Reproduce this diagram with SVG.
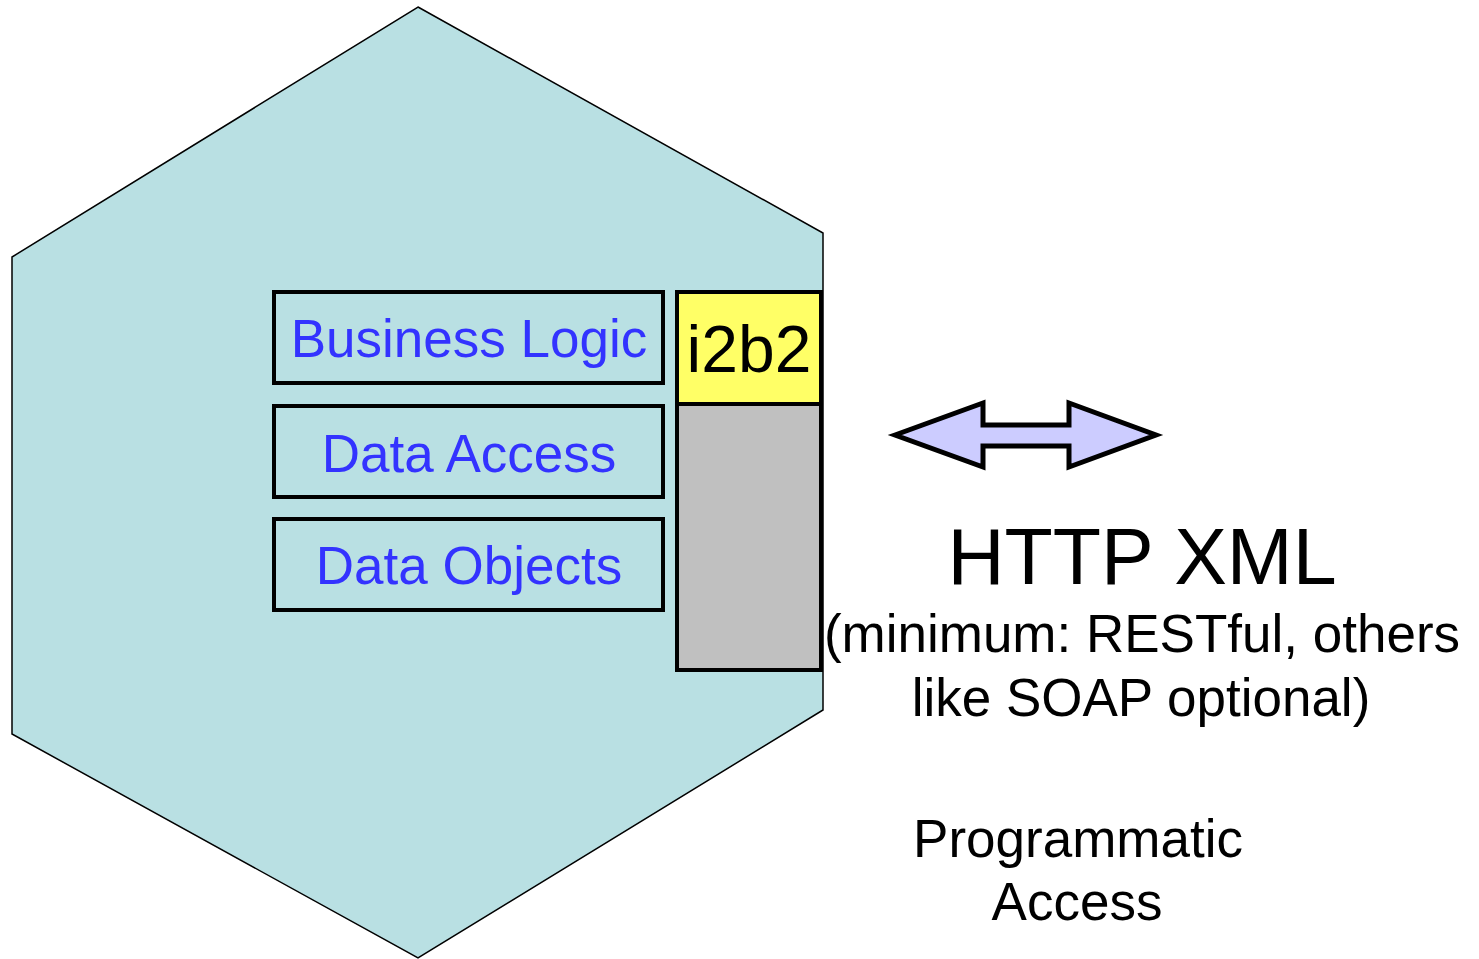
<svg xmlns="http://www.w3.org/2000/svg" width="1479" height="959" viewBox="0 0 1479 959">
<style>
.t{font-family:"Liberation Sans",Arial,sans-serif;text-anchor:middle}
.blue{fill:#3333FF;font-size:53px}
.lay{fill:none;stroke:#000;stroke-width:4}
.blk{fill:#000;font-size:53px}
</style>
<rect width="1479" height="959" fill="#fff"/>
<g id="hexagon">
<polygon points="418,7 823,233 823,710 418,958 12,734 12,257" fill="#B9E0E3" stroke="#000" stroke-width="1.5"/>
</g>
<g id="business-logic">
<rect x="274" y="292" width="389" height="91" class="lay"/>
<text x="469" y="357" class="t blue">Business Logic</text>
</g>
<g id="data-access">
<rect x="274" y="406" width="389" height="91" class="lay"/>
<text x="469" y="472" class="t blue">Data Access</text>
</g>
<g id="data-objects">
<rect x="274" y="519" width="389" height="91" class="lay"/>
<text x="469" y="584" class="t blue">Data Objects</text>
</g>
<g id="i2b2">
<rect x="677" y="292" width="144" height="112" fill="#FFFF66" stroke="#000" stroke-width="4"/>
<rect x="677" y="404" width="144" height="266" fill="#C0C0C0" stroke="#000" stroke-width="4"/>
<text x="749" y="372" class="t" style="font-size:66px;fill:#000">i2b2</text>
</g>
<g id="connectors">
<polygon points="895,435 983,403 983,425 1069,425 1069,403 1156,435 1069,467 1069,446 983,446 983,467" fill="#CCCCFF" stroke="#000" stroke-width="5" stroke-linejoin="miter"/>
</g>
<g id="labels">
<text x="1142" y="584" class="t" style="font-size:79px;fill:#000">HTTP XML</text>
<text x="1142" y="652" class="t blk">(minimum: RESTful, others</text>
<text x="1141" y="716" class="t blk">like SOAP optional)</text>
<text x="1078" y="857" class="t blk">Programmatic</text>
<text x="1077" y="920" class="t blk">Access</text>
</g>
</svg>
